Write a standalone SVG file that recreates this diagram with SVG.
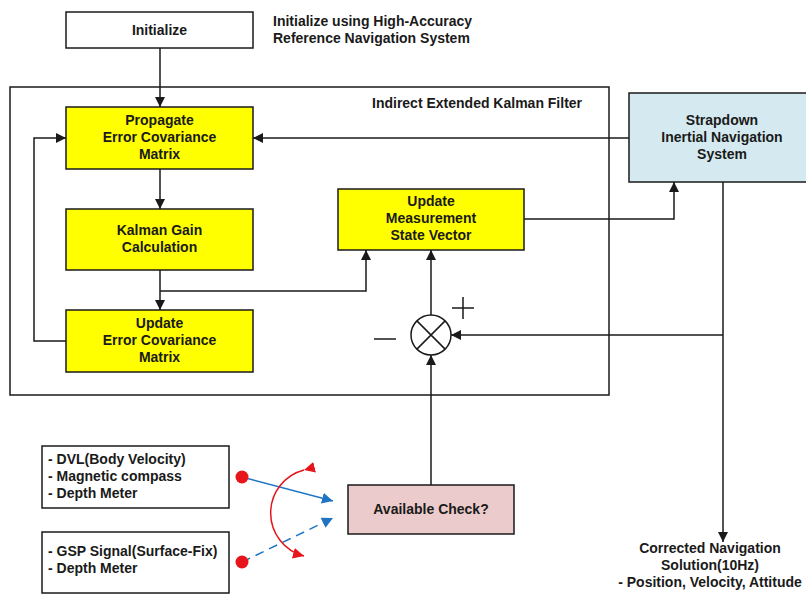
<svg xmlns="http://www.w3.org/2000/svg" width="806" height="594" viewBox="0 0 806 594">
  <defs>
    <style>
      .box { stroke: #1a1a1a; stroke-width: 1.5; }
      .plain { fill: #ffffff; }
      .yellow { fill: #ffff00; }
      .ins { fill: #d5eaf0; }
      .check { fill: #ebcbcb; }
      .t { font-family: "Liberation Sans", Arial, sans-serif; font-size: 14px; font-weight: bold; fill: #1a1a1a; }
      .c { text-anchor: middle; }
      .wire { fill: none; stroke: #1a1a1a; stroke-width: 1.5; }
      .blue { fill: none; stroke: #1f74c4; stroke-width: 1.5; }
      .red { fill: none; stroke: #e8141b; stroke-width: 1.5; }
    </style>
    <marker id="arr" viewBox="0 0 10 10" refX="10" refY="5" markerWidth="10" markerHeight="10" markerUnits="userSpaceOnUse" orient="auto">
      <path d="M0,0 L10,5 L0,10 z" fill="#1a1a1a"/>
    </marker>
    <marker id="arrB" viewBox="0 0 10 10" refX="10" refY="5" markerWidth="11" markerHeight="11" markerUnits="userSpaceOnUse" orient="auto">
      <path d="M0,0 L10,5 L0,10 z" fill="#1f74c4"/>
    </marker>
    <marker id="arrR" viewBox="0 0 10 10" refX="10" refY="5" markerWidth="11" markerHeight="11" markerUnits="userSpaceOnUse" orient="auto">
      <path d="M0,0 L10,5 L0,10 z" fill="#e8141b"/>
    </marker>
  </defs>

  <rect width="806" height="594" fill="#ffffff"/>

  <!-- filter boundary -->
  <g id="filter">
    <rect x="10" y="87" width="599" height="308" fill="none" class="box"/>
    <text class="t" x="372" y="108">Indirect Extended Kalman Filter</text>
  </g>

  <g id="initialize">
    <rect x="66" y="12" width="187" height="36" class="box plain"/>
    <text class="t c" x="159.5" y="35">Initialize</text>
  </g>

  <g id="init-note">
    <text class="t" x="273" y="26">Initialize using High-Accuracy</text>
    <text class="t" x="273" y="43">Reference Navigation System</text>
  </g>

  <g id="propagate">
    <rect x="66" y="107" width="187" height="62" class="box yellow"/>
    <text class="t c" x="159.5" y="125">Propagate</text>
    <text class="t c" x="159.5" y="142">Error Covariance</text>
    <text class="t c" x="159.5" y="159">Matrix</text>
  </g>

  <g id="kalman-gain">
    <rect x="66" y="209" width="187" height="61" class="box yellow"/>
    <text class="t c" x="159.5" y="235">Kalman Gain</text>
    <text class="t c" x="159.5" y="252">Calculation</text>
  </g>

  <g id="update-cov">
    <rect x="66" y="310" width="187" height="62" class="box yellow"/>
    <text class="t c" x="159.5" y="328">Update</text>
    <text class="t c" x="159.5" y="345">Error Covariance</text>
    <text class="t c" x="159.5" y="362">Matrix</text>
  </g>

  <g id="update-meas">
    <rect x="338" y="189" width="186" height="61" class="box yellow"/>
    <text class="t c" x="431" y="206">Update</text>
    <text class="t c" x="431" y="223">Measurement</text>
    <text class="t c" x="431" y="240">State Vector</text>
  </g>

  <g id="sins">
    <rect x="629" y="93" width="190" height="89" class="box ins"/>
    <text class="t c" x="722" y="125">Strapdown</text>
    <text class="t c" x="722" y="142">Inertial Navigation</text>
    <text class="t c" x="722" y="159">System</text>
  </g>

  <g id="sum">
    <circle cx="431" cy="335" r="20" fill="#ffffff" stroke="#1a1a1a" stroke-width="1.5"/>
    <path d="M416.9,320.9 L445.1,349.1 M445.1,320.9 L416.9,349.1" class="wire"/>
    <path d="M452,308 H474 M463,297 V319" fill="none" stroke="#1a1a1a" stroke-width="1.5"/>
    <path d="M374,339 H396" fill="none" stroke="#1a1a1a" stroke-width="1.5"/>
  </g>

  <g id="available-check">
    <rect x="348" y="485" width="166" height="49" class="box check"/>
    <text class="t c" x="431" y="514">Available Check?</text>
  </g>

  <g id="sensors-a">
    <rect x="42" y="446" width="187" height="62" class="box plain"/>
    <text class="t" x="48" y="464">- DVL(Body Velocity)</text>
    <text class="t" x="48" y="481">- Magnetic compass</text>
    <text class="t" x="48" y="498">- Depth Meter</text>
  </g>

  <g id="sensors-b">
    <rect x="42" y="532" width="187" height="61" class="box plain"/>
    <text class="t" x="48" y="556">- GSP Signal(Surface-Fix)</text>
    <text class="t" x="48" y="573">- Depth Meter</text>
  </g>

  <g id="output">
    <text class="t c" x="710" y="553">Corrected Navigation</text>
    <text class="t c" x="710" y="570">Solution(10Hz)</text>
    <text class="t c" x="710" y="587">- Position, Velocity, Attitude</text>
  </g>

  <g id="connectors">
    <path d="M160,48 V107" class="wire" marker-end="url(#arr)"/>
    <path d="M160,169 V209" class="wire" marker-end="url(#arr)"/>
    <path d="M160,270 V310" class="wire" marker-end="url(#arr)"/>
    <path d="M160,291 H366 V250" class="wire" marker-end="url(#arr)"/>
    <path d="M66,341 H34 V138 H66" class="wire" marker-end="url(#arr)"/>
    <path d="M629,138 H253" class="wire" marker-end="url(#arr)"/>
    <path d="M524,219 H674 V182" class="wire" marker-end="url(#arr)"/>
    <path d="M723,182 V542" class="wire" marker-end="url(#arr)"/>
    <path d="M723,335 H451" class="wire" marker-end="url(#arr)"/>
    <path d="M431,315 V250" class="wire" marker-end="url(#arr)"/>
    <path d="M431,485 V355" class="wire" marker-end="url(#arr)"/>
    <!-- source selector -->
    <path d="M242,477 L333,501" class="blue" marker-end="url(#arrB)"/>
    <path d="M242,562 L333,518" class="blue" stroke-dasharray="9,6" marker-end="url(#arrB)"/>
    <path d="M304,470 A44.4,44.4 0 0 0 304,556" class="red" marker-start="url(#arrR)" marker-end="url(#arrR)"/>
    <circle cx="242" cy="477" r="6.5" fill="#e8141b"/>
    <circle cx="242" cy="562" r="6.5" fill="#e8141b"/>
  </g>
</svg>
